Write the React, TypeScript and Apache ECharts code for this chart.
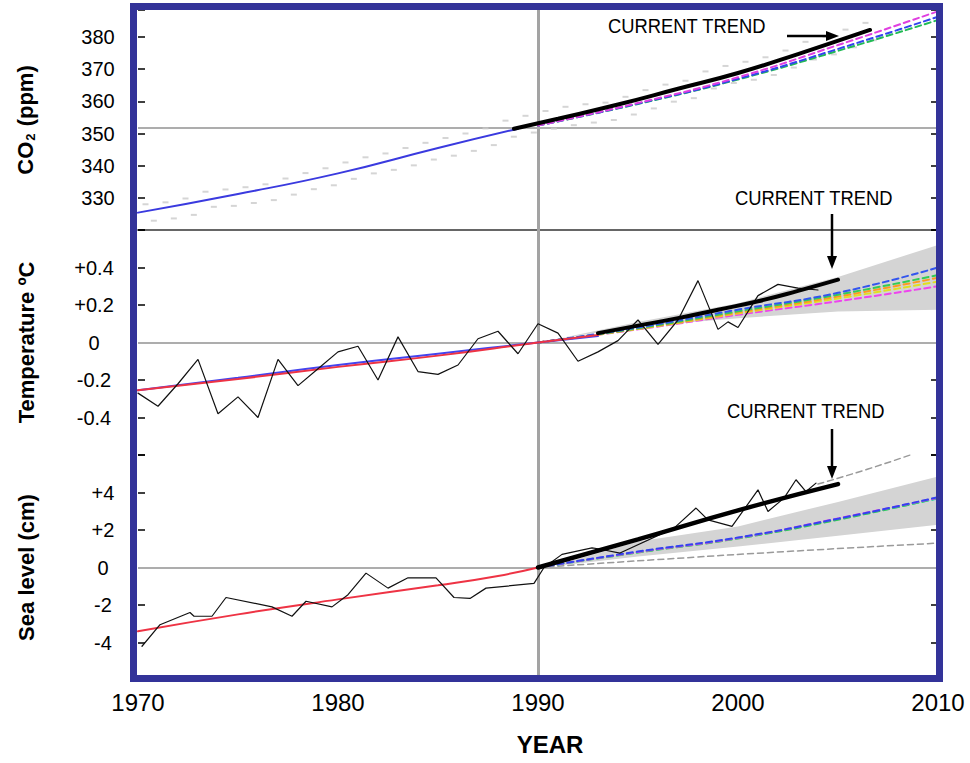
import { useEffect, useRef } from "react";
import * as echarts from "echarts";

// ---------- tick labels ----------
const YEAR_TICKS = [1970, 1980, 1990, 2000, 2010];
const CO2_TICKS = [330, 340, 350, 360, 370, 380];
const TEMP_TICKS = [-0.4, -0.2, 0, 0.2, 0.4];
const TEMP_TICK_LABELS = ["-0.4", "-0.2", "0", "+0.2", "+0.4"];
const SEA_TICKS = [-4, -2, 0, 2, 4];
const SEA_TICK_LABELS = ["-4", "-2", "0", "+2", "+4"];

// ---------- CO2 (ppm) ----------
const CO2_OBS_YEARS = [
  1970, 1971, 1972, 1973, 1974, 1975, 1976, 1977, 1978, 1979, 1980, 1981, 1982,
  1983, 1984, 1985, 1986, 1987, 1988, 1989, 1990, 1991, 1992, 1993, 1994, 1995,
  1996, 1997, 1998, 1999, 2000, 2001, 2002, 2003, 2004, 2005, 2006,
];
const CO2_SEASON_HIGH = [
  328.0, 328.6, 329.8, 331.9, 332.6, 333.3, 334.2, 336.0, 337.7, 339.2, 341.0,
  342.6, 343.8, 345.5, 347.1, 348.6, 350.0, 351.6, 354.0, 355.5, 357.0, 358.3,
  359.1, 359.6, 361.4, 363.5, 365.2, 366.4, 369.3, 371.0, 372.3, 373.7, 375.8,
  378.5, 380.1, 382.3, 384.4,
];
const CO2_SEASON_LOW = [
  322.9, 323.6, 324.7, 327.2, 327.5, 328.4, 329.3, 331.0, 332.7, 333.9, 335.9,
  337.6, 338.7, 340.1, 341.9, 343.1, 344.6, 346.4, 349.0, 350.3, 351.5, 352.6,
  353.4, 354.2, 355.9, 357.8, 359.9, 361.0, 364.0, 365.7, 366.7, 368.2, 370.5,
  373.0, 374.6, 376.8, 379.0,
];
const CO2_FIT_YEARS = [1970, 1975, 1980, 1985, 1989];
const CO2_FIT = [325.4, 331.2, 337.6, 345.5, 351.5];
const CO2_TREND_YEARS = [1988.8, 1991, 1994, 1997, 2000, 2003, 2006.6];
const CO2_TREND = [351.5, 354.6, 359.0, 363.9, 368.8, 374.7, 382.2];
const CO2_PROJ_YEARS = [1990, 1995, 2000, 2005, 2010];
const CO2_PROJ_MAGENTA = [352.5, 359.5, 367.5, 377.5, 388.0];
const CO2_PROJ_BLUE = [352.5, 359.3, 367.0, 376.3, 386.3];
const CO2_PROJ_GREEN = [352.5, 359.2, 366.8, 375.7, 385.3];
const CO2_REF_LEVEL = 351.7;

// ---------- Temperature (ºC) ----------
const TEMP_OBS_YEARS = [
  1970, 1971, 1972, 1973, 1974, 1975, 1976, 1977, 1978, 1979, 1980, 1981, 1982,
  1983, 1984, 1985, 1986, 1987, 1988, 1989, 1990, 1991, 1992, 1993, 1994, 1995,
  1996, 1997, 1998, 1999, 1999.5, 2000, 2001, 2002, 2003, 2004,
];
const TEMP_OBS = [
  -0.27, -0.34, -0.22, -0.09, -0.38, -0.29, -0.4, -0.09, -0.23, -0.14, -0.05,
  -0.02, -0.2, 0.03, -0.155, -0.17, -0.12, 0.02, 0.06, -0.06, 0.1, 0.05, -0.1,
  -0.05, 0.01, 0.12, -0.01, 0.12, 0.33, 0.07, 0.11, 0.08, 0.25, 0.31, 0.29, 0.28,
];
const TEMP_FIT_YEARS = [1970, 1975, 1980, 1985, 1990, 1993];
const TEMP_FIT_RED = [-0.255, -0.195, -0.13, -0.07, 0.0, 0.04];
const TEMP_FIT_BLUE = [-0.255, -0.188, -0.12, -0.06, 0.0, 0.035];
const TEMP_TREND_YEARS = [1993, 1995, 1997, 1999, 2001, 2003, 2005];
const TEMP_TREND = [0.05, 0.09, 0.13, 0.175, 0.22, 0.275, 0.335];
const TEMP_BAND_YEARS = [1991, 1995, 2000, 2005, 2010];
const TEMP_BAND_LOW = [0.02, 0.085, 0.13, 0.165, 0.175];
const TEMP_BAND_HIGH = [0.02, 0.11, 0.21, 0.35, 0.52];
const TEMP_PROJ_YEARS = [1990, 1995, 2000, 2005, 2010];
const TEMP_PROJ_BLUE = [0, 0.08, 0.175, 0.265, 0.4];
const TEMP_PROJ_GREEN = [0, 0.076, 0.166, 0.255, 0.36];
const TEMP_PROJ_ORANGE = [0, 0.074, 0.16, 0.245, 0.345];
const TEMP_PROJ_YELLOW = [0, 0.072, 0.155, 0.235, 0.325];
const TEMP_PROJ_MAGENTA = [0, 0.07, 0.148, 0.22, 0.3];

// ---------- Sea level (cm) ----------
const SEA_OBS_YEARS = [
  1970.2, 1971.1, 1972.6, 1972.8, 1973.7, 1974.4, 1976.7, 1977.7, 1978.4,
  1979.7, 1980.5, 1981.4, 1982.5, 1983.5, 1984.9, 1985.8, 1986.6, 1987.4,
  1989.8, 1990.3, 1991.2, 1992.7, 1993.0, 1994.1, 1996.8, 1997.9, 1998.5,
  1999.7, 2001.0, 2001.5, 2002.3, 2002.9, 2003.4, 2003.9,
];
const SEA_OBS = [
  -4.2, -3.05, -2.4, -2.6, -2.6, -1.6, -2.1, -2.6, -1.8, -2.1, -1.45, -0.3, -1.1,
  -0.55, -0.55, -1.6, -1.65, -1.1, -0.85, 0.0, 0.7, 1.05, 1.0, 0.77, 2.1, 3.17,
  2.54, 2.19, 4.14, 2.99, 3.7, 4.68, 4.05, 4.5,
];
const SEA_FIT_YEARS = [1970, 1975, 1980, 1985, 1988, 1990];
const SEA_FIT_RED = [-3.4, -2.5, -1.7, -0.95, -0.45, 0.0];
const SEA_TREND_YEARS = [1990, 1995, 2000, 2005];
const SEA_TREND = [0.0, 1.5, 3.05, 4.45];
const SEA_BAND_YEARS = [1991, 1995, 2000, 2005, 2010];
const SEA_BAND_LOW = [0.1, 0.59, 1.12, 1.7, 2.28];
const SEA_BAND_HIGH = [0.15, 1.39, 2.19, 3.5, 4.85];
const SEA_PROJ_YEARS = [1990, 1995, 2000, 2005, 2010];
const SEA_PROJ_BLUE = [0, 0.85, 1.6, 2.6, 3.75];
const SEA_PROJ_MAGENTA = [0, 0.83, 1.58, 2.62, 3.72];
const SEA_PROJ_GREEN = [0, 0.8, 1.55, 2.55, 3.7];
const SEA_PROJ_CYAN = [0, 0.82, 1.57, 2.58, 3.68];
const SEA_UPPER_DASH_YEARS = [2004.0, 2006.5, 2008.6];
const SEA_UPPER_DASH = [4.45, 5.25, 6.0];
const SEA_LOWER_DASH_YEARS = [1990, 1995.8, 2002.4, 2010];
const SEA_LOWER_DASH = [0, 0.41, 0.85, 1.3];

const REF_YEAR = 1990;
const SEASON_HIGH_OFFSET = 4.5 / 12; // May peak
const SEASON_LOW_OFFSET = 9.5 / 12; // October trough

const FONT = "'Liberation Sans', Arial, Helvetica, sans-serif";

function pairs(xs: number[], ys: number[]) {
  return xs.map((x, i) => [x, ys[i]]);
}

function tickFormatter(ticks: number[], labels: string[]) {
  return (v: number) => {
    for (let i = 0; i < ticks.length; i++) {
      if (Math.abs(v - ticks[i]) < 1e-6) return labels[i];
    }
    return "";
  };
}

function line(
  grid: number,
  data: number[][],
  color: string,
  width: number,
  opts: any = {}
) {
  return {
    type: "line",
    xAxisIndex: grid,
    yAxisIndex: grid,
    data,
    showSymbol: false,
    symbol: "none",
    smooth: opts.smooth ?? false,
    z: opts.z ?? 3,
    silent: true,
    lineStyle: { color, width, type: opts.dashed ? [6, 4] : "solid", cap: "round" },
    itemStyle: { color },
    emphasis: { disabled: true },
    ...(opts.markLine ? { markLine: opts.markLine } : {}),
  };
}

// uncertainty band drawn as one polygon through the axis scales
function band(grid: number, xs: number[], low: number[], high: number[]) {
  const data = xs.map((x, i) => [x, low[i], high[i]]);
  return {
    type: "custom",
    xAxisIndex: grid,
    yAxisIndex: grid,
    data,
    encode: { x: 0, y: [1, 2] },
    z: 2,
    silent: true,
    renderItem: (params: any, api: any) => {
      if (params.dataIndex !== 0) return null;
      const upper = data.map((d) => api.coord([d[0], d[2]]));
      const lower = data.map((d) => api.coord([d[0], d[1]])).reverse();
      return {
        type: "polygon",
        shape: { points: upper.concat(lower) },
        style: { fill: "#d4d4d4", stroke: "none" },
      };
    },
  };
}

function gridLines(extra: number) {
  return {
    silent: true,
    symbol: "none",
    z: 1,
    label: { show: false },
    emphasis: { disabled: true },
    animation: false,
    data: [
      { xAxis: REF_YEAR, lineStyle: { color: "#a3a3a3", width: 3, type: "solid" } },
      { yAxis: extra, lineStyle: { color: "#adadad", width: 2, type: "solid" } },
    ],
  };
}

export default function App() {
  const ref = useRef<HTMLDivElement>(null);

  useEffect(() => {
    if (!ref.current) return;
    const chart = echarts.init(ref.current, undefined, { renderer: "svg" });

    const grids = [
      { left: 138, width: 800, top: 10, height: 220 },
      { left: 138, width: 800, top: 230, height: 225 },
      { left: 138, width: 800, top: 455, height: 225 },
    ].map((g) => ({ ...g, containLabel: false, outerBoundsMode: "none" }));

    const xAxisBase = {
      type: "value",
      min: YEAR_TICKS[0],
      max: YEAR_TICKS[YEAR_TICKS.length - 1],
      interval: 10,
      splitLine: { show: false },
      axisTick: { show: false },
    };

    const tick = { show: true, inside: true, length: 7, lineStyle: { color: "#000", width: 1.5 } };
    const nameStyle = { fontSize: 22, fontWeight: "bold", fontFamily: FONT, color: "#000" };

    const yLeft = (grid: number, min: number, max: number, interval: number, fmt: any, margin: number, name: string, extra: any = {}) => ({
      type: "value",
      gridIndex: grid,
      position: "left",
      min,
      max,
      interval,
      splitLine: { show: false },
      axisLine: { show: false },
      axisTick: tick,
      axisLabel: { formatter: fmt, fontSize: 20, fontFamily: FONT, color: "#000", align: "center", margin },
      name,
      nameLocation: "middle",
      nameRotate: 90,
      nameGap: 101,
      nameTextStyle: { ...nameStyle, ...extra },
    });
    const yRight = (grid: number, min: number, max: number, interval: number) => ({
      type: "value",
      gridIndex: grid,
      position: "right",
      min,
      max,
      interval,
      splitLine: { show: false },
      axisLine: { show: false },
      axisTick: tick,
      axisLabel: { show: false },
    });

    const series: any[] = [
      // ----- CO2 -----
      {
        type: "scatter",
        xAxisIndex: 0,
        yAxisIndex: 0,
        data: pairs(CO2_OBS_YEARS.map((y) => y + SEASON_HIGH_OFFSET), CO2_SEASON_HIGH),
        symbol: "rect",
        symbolSize: [6, 2],
        itemStyle: { color: "#cacaca" },
        z: 2,
        silent: true,
      },
      {
        type: "scatter",
        xAxisIndex: 0,
        yAxisIndex: 0,
        data: pairs(CO2_OBS_YEARS.map((y) => y + SEASON_LOW_OFFSET), CO2_SEASON_LOW),
        symbol: "rect",
        symbolSize: [6, 2],
        itemStyle: { color: "#cacaca" },
        z: 2,
        silent: true,
      },
      line(0, pairs(CO2_FIT_YEARS, CO2_FIT), "#3a3adf", 2, { smooth: true, markLine: gridLines(CO2_REF_LEVEL) }),
      line(0, pairs(CO2_PROJ_YEARS, CO2_PROJ_GREEN), "#22bb55", 2, { smooth: true, dashed: true }),
      line(0, pairs(CO2_PROJ_YEARS, CO2_PROJ_BLUE), "#3344ee", 2, { smooth: true, dashed: true }),
      line(0, pairs(CO2_PROJ_YEARS, CO2_PROJ_MAGENTA), "#e040e0", 2, { smooth: true, dashed: true }),
      line(0, pairs(CO2_TREND_YEARS, CO2_TREND), "#000", 4, { smooth: true, z: 5 }),

      // ----- Temperature -----
      band(1, TEMP_BAND_YEARS, TEMP_BAND_LOW, TEMP_BAND_HIGH),
      line(1, pairs(TEMP_PROJ_YEARS, TEMP_PROJ_MAGENTA), "#ee44ee", 2, { smooth: true, dashed: true }),
      line(1, pairs(TEMP_PROJ_YEARS, TEMP_PROJ_YELLOW), "#e0e020", 2, { smooth: true, dashed: true }),
      line(1, pairs(TEMP_PROJ_YEARS, TEMP_PROJ_ORANGE), "#ff9922", 2, { smooth: true, dashed: true }),
      line(1, pairs(TEMP_PROJ_YEARS, TEMP_PROJ_GREEN), "#33cc55", 2, { smooth: true, dashed: true }),
      line(1, pairs(TEMP_PROJ_YEARS, TEMP_PROJ_BLUE), "#3355ee", 2, { smooth: true, dashed: true }),
      line(1, pairs(TEMP_FIT_YEARS, TEMP_FIT_BLUE), "#4444ee", 2, { smooth: true, markLine: gridLines(0) }),
      line(1, pairs(TEMP_FIT_YEARS, TEMP_FIT_RED), "#ee3344", 2, { smooth: true }),
      line(1, pairs(TEMP_OBS_YEARS, TEMP_OBS), "#111", 1.2, { z: 4 }),
      line(1, pairs(TEMP_TREND_YEARS, TEMP_TREND), "#000", 4, { smooth: true, z: 5 }),

      // ----- Sea level -----
      band(2, SEA_BAND_YEARS, SEA_BAND_LOW, SEA_BAND_HIGH),
      line(2, pairs(SEA_LOWER_DASH_YEARS, SEA_LOWER_DASH), "#9a9a9a", 1.5, { smooth: true, dashed: true }),
      line(2, pairs(SEA_UPPER_DASH_YEARS, SEA_UPPER_DASH), "#9a9a9a", 1.5, { smooth: true, dashed: true }),
      line(2, pairs(SEA_PROJ_YEARS, SEA_PROJ_CYAN), "#33dddd", 2, { smooth: true, dashed: true }),
      line(2, pairs(SEA_PROJ_YEARS, SEA_PROJ_GREEN), "#33cc55", 2, { smooth: true, dashed: true }),
      line(2, pairs(SEA_PROJ_YEARS, SEA_PROJ_MAGENTA), "#ee44ee", 2, { smooth: true, dashed: true }),
      line(2, pairs(SEA_PROJ_YEARS, SEA_PROJ_BLUE), "#3344ee", 2, { smooth: true, dashed: true }),
      line(2, pairs(SEA_FIT_YEARS, SEA_FIT_RED), "#ee3344", 2, { smooth: true, markLine: gridLines(0) }),
      line(2, pairs(SEA_OBS_YEARS, SEA_OBS), "#111", 1.2, { z: 4 }),
      line(2, pairs(SEA_TREND_YEARS, SEA_TREND), "#000", 4.5, { smooth: true, z: 5 }),
    ];

    const trendLabel = (x: number, y: number) => ({
      type: "text",
      x,
      y,
      scaleX: 0.875,
      z: 100,
      silent: true,
      style: {
        text: "CURRENT TREND",
        fontSize: 21,
        fontFamily: FONT,
        fill: "#000",
        align: "left",
        verticalAlign: "middle",
      },
    });
    const arrowShaft = (x1: number, y1: number, x2: number, y2: number) => ({
      type: "line",
      z: 100,
      silent: true,
      shape: { x1, y1, x2, y2 },
      style: { stroke: "#000", lineWidth: 2.5 },
    });
    const arrowHead = (pts: number[][]) => ({
      type: "polygon",
      z: 100,
      silent: true,
      shape: { points: pts },
      style: { fill: "#000" },
    });

    chart.setOption({
      animation: false,
      backgroundColor: "#fff",
      grid: grids,
      xAxis: [
        {
          ...xAxisBase,
          gridIndex: 0,
          axisLine: { show: true, lineStyle: { color: "#666", width: 2 } },
          axisLabel: { show: false },
        },
        { ...xAxisBase, gridIndex: 1, show: false },
        {
          ...xAxisBase,
          gridIndex: 2,
          axisLine: { show: false },
          axisLabel: {
            fontSize: 24,
            fontFamily: FONT,
            color: "#000",
            margin: 10,
            formatter: (v: number) => String(v),
          },
          name: "YEAR",
          nameLocation: "middle",
          nameGap: 52,
          nameTextStyle: { fontSize: 24, fontWeight: "bold", fontFamily: FONT, color: "#000", padding: [0, 0, 0, 24] },
        },
      ],
      yAxis: [
        yLeft(
          0,
          320,
          388.4,
          10,
          tickFormatter(CO2_TICKS, CO2_TICKS.map(String)),
          40,
          "CO{sub|2} (ppm)",
          {
            rich: {
              sub: { fontSize: 13, fontWeight: "bold", fontFamily: FONT, color: "#000", verticalAlign: "bottom", padding: [10, 1, 0, 1] },
            },
          }
        ),
        yLeft(1, -0.6, 0.6, 0.2, tickFormatter(TEMP_TICKS, TEMP_TICK_LABELS), 44, "Temperature ºC"),
        yLeft(2, -6, 6, 2, tickFormatter(SEA_TICKS, SEA_TICK_LABELS), 35, "Sea level (cm)"),
        { ...yRight(0, 320, 388.4, 10) },
        { ...yRight(1, -0.6, 0.6, 0.2) },
        { ...yRight(2, -6, 6, 2) },
      ],
      series,
      graphic: [
        {
          type: "rect",
          z: 100,
          silent: true,
          shape: { x: 133.5, y: 6.5, width: 806, height: 672 },
          style: { fill: "none", stroke: "#333399", lineWidth: 7 },
        },
        trendLabel(608, 26),
        arrowShaft(787, 36, 828, 36),
        arrowHead([
          [839, 36],
          [826, 31],
          [826, 41],
        ]),
        trendLabel(735, 198),
        arrowShaft(832, 214, 832, 258),
        arrowHead([
          [832, 269],
          [827, 256],
          [837, 256],
        ]),
        trendLabel(727, 411),
        arrowShaft(832, 429, 832, 468),
        arrowHead([
          [832, 479],
          [827, 466],
          [837, 466],
        ]),
      ],
    });

    return () => chart.dispose();
  }, []);

  return (
    <div
      ref={ref}
      style={{ position: "absolute", left: 0, top: 0, width: 970, height: 763, background: "#fff" }}
    />
  );
}
